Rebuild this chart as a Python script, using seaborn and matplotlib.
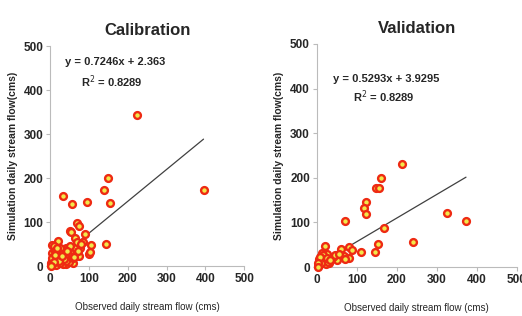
import numpy as np
import pandas as pd
import matplotlib
matplotlib.use("Agg")
import matplotlib.pyplot as plt
import seaborn as sns

# Calibration data (observed, simulated), cms
cal_obs = [225, 395, 148, 138, 153, 95, 33, 57, 70, 75, 50, 55, 90, 65, 145,
           105, 100, 103, 75, 78, 70, 75, 20, 5, 10, 40, 30, 55, 5, 10, 15, 20,
           25, 30, 35, 45, 40, 5, 8, 12, 3, 18, 25, 60, 50, 65, 60, 45, 85, 68,
           2, 6, 14, 22, 28, 38, 48, 58, 33, 15, 8, 4, 12, 26, 42, 36, 52, 62,
           72, 80, 18, 24, 9, 1, 30, 44]
cal_sim = [343, 173, 200, 172, 143, 145, 160, 140, 97, 92, 80, 78, 73, 63, 50,
           47, 28, 32, 45, 42, 25, 22, 57, 48, 45, 40, 38, 20, 5, 15, 10, 25,
           18, 10, 30, 15, 5, 30, 20, 35, 2, 5, 40, 30, 35, 40, 8, 25, 55, 55,
           8, 12, 3, 14, 28, 22, 10, 18, 4, 30, 6, 18, 25, 8, 12, 16, 45, 20,
           35, 50, 40, 12, 10, 1, 22, 35]

# Validation data (observed, simulated), cms
val_obs = [212, 373, 325, 240, 160, 147, 155, 123, 118, 122, 70, 167, 153, 146,
           110, 80, 88, 80, 60, 68, 70, 20, 50, 40, 30, 25, 15, 10, 5, 8, 12,
           18, 35, 45, 55, 3, 6, 14, 22, 28, 16, 11, 7, 4, 26, 32, 2]
val_sim = [232, 103, 122, 57, 200, 178, 178, 145, 132, 118, 103, 87, 52, 34,
           33, 45, 38, 20, 40, 25, 18, 48, 15, 22, 10, 30, 20, 25, 5, 12, 32,
           8, 18, 28, 30, 2, 18, 14, 6, 12, 28, 10, 22, 8, 20, 15, 1]

panels = ["Calibration", "Validation"]
slopes = [0.7246, 0.5293]
intercepts = [2.363, 3.9295]
line_x = [[0, 395], [5, 373]]
r2 = [0.8289, 0.8289]
ticks = [0, 100, 200, 300, 400, 500]

sns.set_style("white")
plt.rcParams["font.family"] = ["Liberation Sans", "DejaVu Sans"]

fig = plt.figure(figsize=(5.22, 3.16), dpi=100)
axes = [fig.add_axes([0.096, 0.158, 0.372, 0.696]),
        fig.add_axes([0.607, 0.155, 0.383, 0.706])]

data = [(cal_obs, cal_sim), (val_obs, val_sim)]
for i, ax in enumerate(axes):
    obs, sim = data[i]
    df = pd.DataFrame({"obs": obs, "sim": sim})
    lx = np.array(line_x[i])
    ly = slopes[i] * lx + intercepts[i]
    sns.lineplot(x=lx, y=ly, ax=ax, color="#404040", linewidth=0.9)
    sns.scatterplot(x="obs", y="sim", data=df, ax=ax, s=24, color="#f2e84a",
                    edgecolor="#ee2a12", linewidth=1.7, zorder=3, clip_on=False)
    ax.set_xlim(0, 500)
    ax.set_ylim(0, 500)
    ax.set_xticks(ticks)
    ax.set_yticks(ticks)
    ax.tick_params(labelsize=8.5, length=3, color="#bbbbbb", width=0.8,
                   direction="out", bottom=True, left=True, pad=2)
    for lab in ax.get_xticklabels() + ax.get_yticklabels():
        lab.set_fontweight("bold")
    for side in ["top", "right"]:
        ax.spines[side].set_visible(False)
    for side in ["left", "bottom"]:
        ax.spines[side].set_color("#bbbbbb")
        ax.spines[side].set_linewidth(0.8)
    ax.set_title(panels[i], fontsize=12, fontweight="bold", pad=8)
    ax.set_xlabel("Observed daily stream flow (cms)", fontsize=7, labelpad=12)
    ax.set_ylabel("Simulation daily stream flow(cms)", fontsize=7.5,
                  fontweight="bold", labelpad=4)
    eq = "y = %sx + %s" % (slopes[i], intercepts[i])
    ax.text(0.075 if i == 0 else 0.08, 0.93 if i == 0 else 0.845, eq,
            transform=ax.transAxes, fontsize=8, fontweight="bold",
            va="center")
    ax.text(0.16 if i == 0 else 0.18, 0.84 if i == 0 else 0.765,
            "R$^2$ = %s" % r2[i], transform=ax.transAxes, fontsize=8,
            fontweight="bold", va="center")

fig.savefig("out.png", dpi=100)
